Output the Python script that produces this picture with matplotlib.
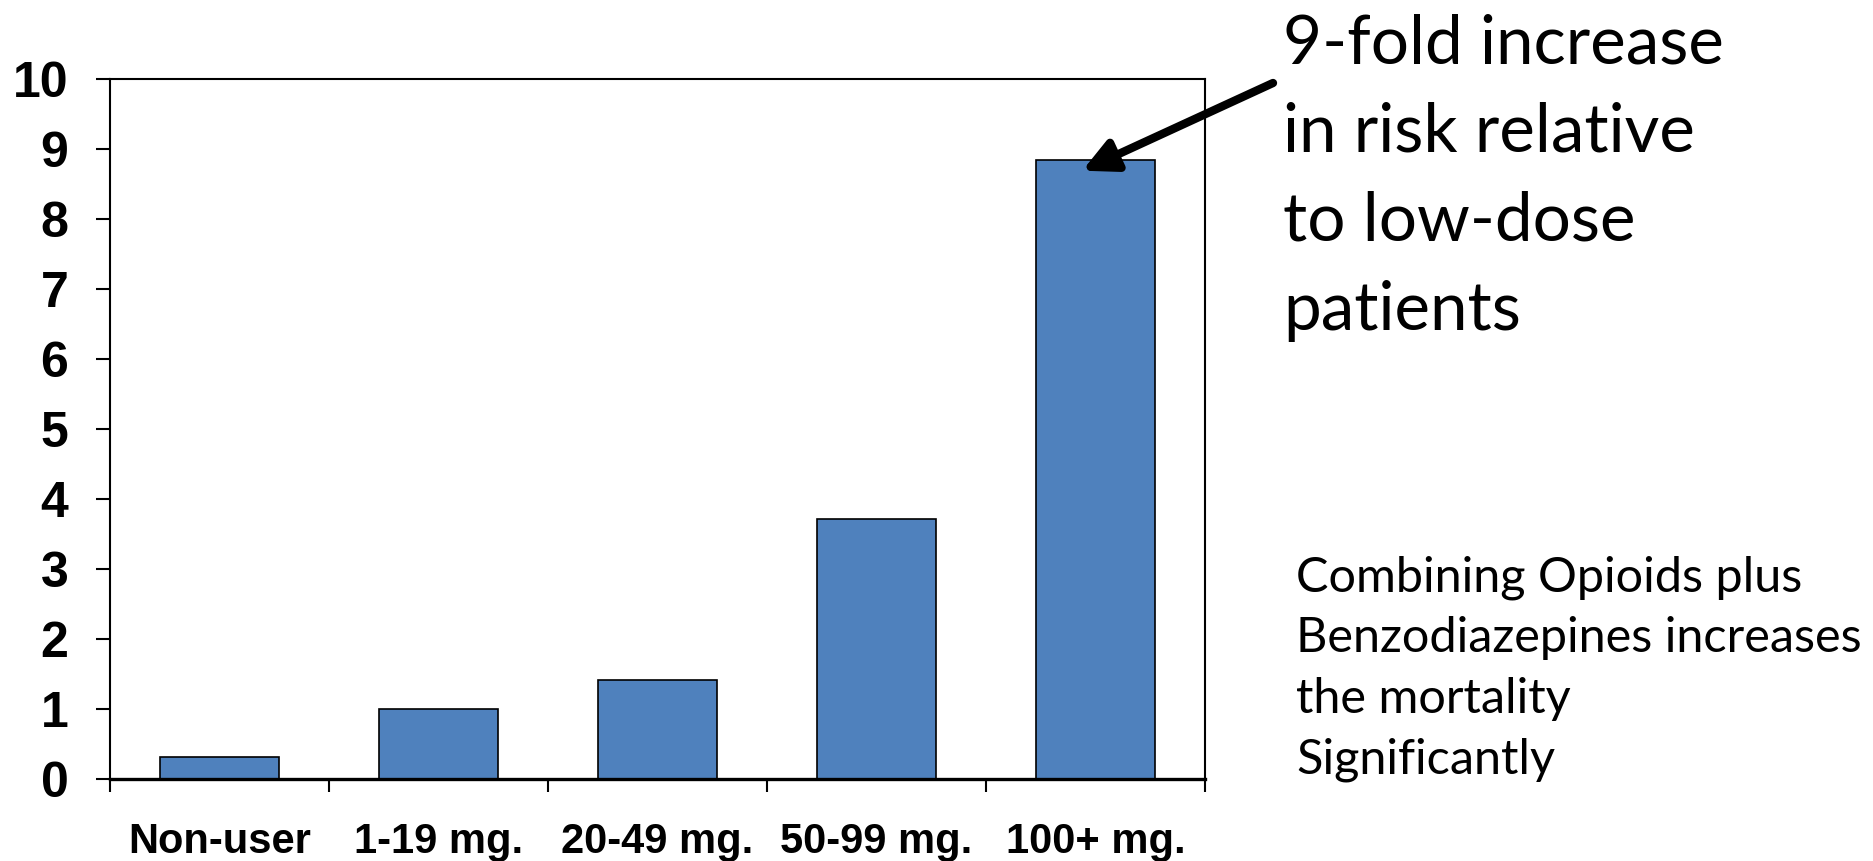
import matplotlib
matplotlib.use('Agg')
import matplotlib.pyplot as plt

categories = ['Non-user', '1-19 mg.', '20-49 mg.', '50-99 mg.', '100+ mg.']
values = [0.31, 1.0, 1.42, 3.71, 8.85]
y_ticks = list(range(0, 11))
callout_lines = ['9-fold increase', 'in risk relative', 'to low-dose', 'patients']
note_lines = ['Combining Opioids plus', 'Benzodiazepines increases', 'the mortality', 'Significantly']

W, H = 1873, 861
fig = plt.figure(figsize=(W / 100, H / 100), dpi=100)
fig.patch.set_facecolor('white')
ax = fig.add_axes([110 / W, 1 - 779 / H, (1205 - 110) / W, (779 - 79) / H])

x = list(range(len(categories)))
ax.bar(x, values, width=0.54, color='#4F81BD', edgecolor='black', linewidth=1.2, zorder=2)
ax.set_xlim(-0.5, len(categories) - 0.5)
ax.set_ylim(0, 10)

for s in ['left', 'top', 'right']:
    ax.spines[s].set_linewidth(1.5)
ax.spines['bottom'].set_linewidth(2.4)
ax.spines['bottom'].set_zorder(3)

ax.set_yticks(y_ticks)
ax.set_yticklabels([str(v) for v in y_ticks], fontsize=36, fontweight='bold', family='Liberation Sans')
ax.tick_params(axis='y', direction='out', length=10, width=1.5, pad=20)

ax.set_xticks(x)
ax.set_xticklabels(categories, fontsize=30, fontweight='bold', family='Liberation Sans')
ax.set_xticks([i - 0.5 for i in range(len(categories) + 1)], minor=True)
ax.tick_params(axis='x', which='major', length=0, pad=31)
ax.tick_params(axis='x', which='minor', direction='out', length=9.5, width=1.5)

for i, line in enumerate(callout_lines):
    fig.text(1283 / W, 1 - (63 + 89 * i) / H, line, fontsize=48.5, family='Lato', va='baseline', ha='left')

for i, line in enumerate(note_lines):
    fig.text(1296 / W, 1 - (591 + 61 * i) / H, line, fontsize=35, family='Lato', va='baseline', ha='left')

ax.annotate('', xy=(3.94, 8.69), xycoords='data',
            xytext=(1273, H - 83), textcoords='figure pixels',
            arrowprops=dict(arrowstyle='-|>,head_length=0.9,head_width=0.45', lw=6, color='black',
                            mutation_scale=22, shrinkA=0, shrinkB=0),
            annotation_clip=False)

fig.savefig('out.png', dpi=100, facecolor='white')
